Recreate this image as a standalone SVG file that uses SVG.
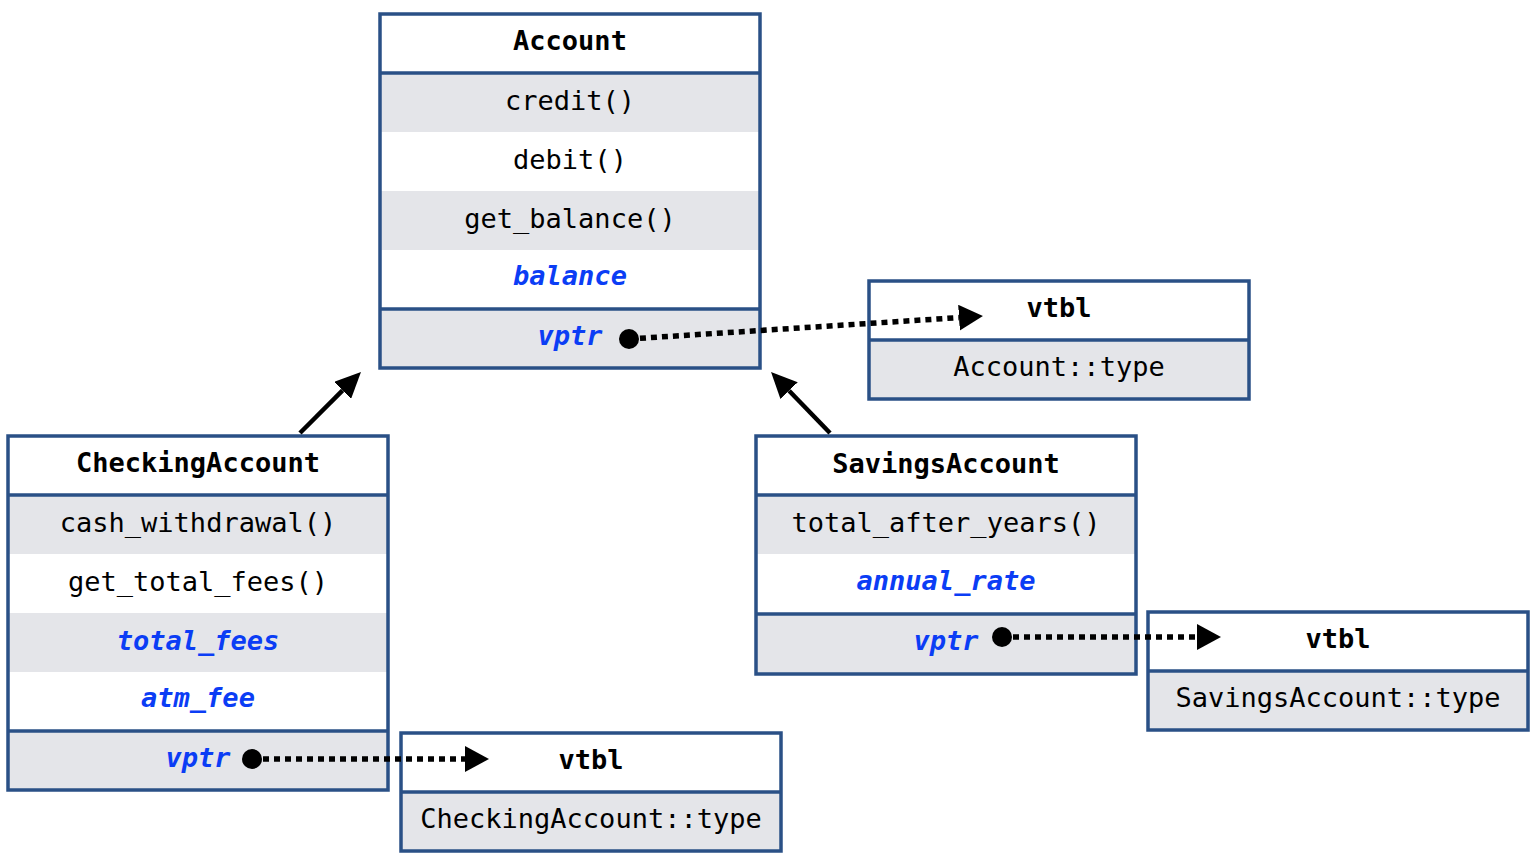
<svg xmlns="http://www.w3.org/2000/svg" width="1532" height="862" viewBox="0 0 1532 862">
<style>
.t{font-family:"DejaVu Sans Mono","Liberation Mono",monospace;font-size:27px;fill:#000;text-anchor:middle;dominant-baseline:central}
.h{font-weight:bold}
.f{font-weight:bold;font-style:italic;fill:#0b3df5}
.g{fill:#e4e5e9}
.w{fill:#ffffff}
.box{fill:none;stroke:#2a5086;stroke-width:3.5}
.sep{stroke:#2a5086;stroke-width:3.5}
.dot{stroke:#000;stroke-width:5.5;stroke-dasharray:6 5;fill:none}
.inh{stroke:#000;stroke-width:4.5;fill:none}
</style>
<defs>
<marker id="tri" markerUnits="userSpaceOnUse" markerWidth="24" markerHeight="26" refX="0" refY="13" orient="auto"><path d="M0,0 L24,13 L0,26 z" fill="#000"/></marker>
<marker id="inh" markerUnits="userSpaceOnUse" markerWidth="26" markerHeight="24" refX="0" refY="12" orient="auto"><path d="M0,0 L26,12 L0,24 z" fill="#000"/></marker>
</defs>
<rect width="1532" height="862" fill="#fff"/>

<g id="account">
<rect class="w" x="380" y="14" width="380" height="59"/>
<rect class="g" x="380" y="73" width="380" height="59"/>
<rect class="w" x="380" y="132" width="380" height="59"/>
<rect class="g" x="380" y="191" width="380" height="59"/>
<rect class="w" x="380" y="250" width="380" height="59"/>
<rect class="g" x="380" y="309" width="380" height="59"/>
<rect class="box" x="380" y="14" width="380" height="354"/>
<line class="sep" x1="380" y1="73" x2="760" y2="73"/>
<line class="sep" x1="380" y1="309" x2="760" y2="309"/>
<text class="t h" x="570" y="40">Account</text>
<text class="t" x="570" y="100">credit()</text>
<text class="t" x="570" y="159">debit()</text>
<text class="t" x="570" y="218">get_balance()</text>
<text class="t f" x="570" y="275">balance</text>
<text class="t f" x="570" y="335">vptr</text>
</g>

<g id="account-vtbl">
<rect class="w" x="869" y="281" width="380" height="59"/>
<rect class="g" x="869" y="340" width="380" height="59"/>
<rect class="box" x="869" y="281" width="380" height="118"/>
<line class="sep" x1="869" y1="340" x2="1249" y2="340"/>
<text class="t h" x="1059" y="307">vtbl</text>
<text class="t" x="1059" y="366">Account::type</text>
</g>

<g id="checking">
<rect class="w" x="8" y="436" width="380" height="59"/>
<rect class="g" x="8" y="495" width="380" height="59"/>
<rect class="w" x="8" y="554" width="380" height="59"/>
<rect class="g" x="8" y="613" width="380" height="59"/>
<rect class="w" x="8" y="672" width="380" height="59"/>
<rect class="g" x="8" y="731" width="380" height="59"/>
<rect class="box" x="8" y="436" width="380" height="354"/>
<line class="sep" x1="8" y1="495" x2="388" y2="495"/>
<line class="sep" x1="8" y1="731" x2="388" y2="731"/>
<text class="t h" x="198" y="462">CheckingAccount</text>
<text class="t" x="198" y="522">cash_withdrawal()</text>
<text class="t" x="198" y="581">get_total_fees()</text>
<text class="t f" x="198" y="640">total_fees</text>
<text class="t f" x="198" y="697">atm_fee</text>
<text class="t f" x="198" y="757">vptr</text>
</g>

<g id="checking-vtbl">
<rect class="w" x="401" y="733" width="380" height="59"/>
<rect class="g" x="401" y="792" width="380" height="59"/>
<rect class="box" x="401" y="733" width="380" height="118"/>
<line class="sep" x1="401" y1="792" x2="781" y2="792"/>
<text class="t h" x="591" y="759">vtbl</text>
<text class="t" x="591" y="818">CheckingAccount::type</text>
</g>

<g id="savings">
<rect class="w" x="756" y="436" width="380" height="59"/>
<rect class="g" x="756" y="495" width="380" height="59"/>
<rect class="w" x="756" y="554" width="380" height="60"/>
<rect class="g" x="756" y="614" width="380" height="60"/>
<rect class="box" x="756" y="436" width="380" height="238"/>
<line class="sep" x1="756" y1="495" x2="1136" y2="495"/>
<line class="sep" x1="756" y1="614" x2="1136" y2="614"/>
<text class="t h" x="946" y="463">SavingsAccount</text>
<text class="t" x="946" y="522">total_after_years()</text>
<text class="t f" x="946" y="580">annual_rate</text>
<text class="t f" x="946" y="640">vptr</text>
</g>

<g id="savings-vtbl">
<rect class="w" x="1148" y="612" width="380" height="59"/>
<rect class="g" x="1148" y="671" width="380" height="59"/>
<rect class="box" x="1148" y="612" width="380" height="118"/>
<line class="sep" x1="1148" y1="671" x2="1528" y2="671"/>
<text class="t h" x="1338" y="638">vtbl</text>
<text class="t" x="1338" y="697">SavingsAccount::type</text>
</g>

<g id="connectors">
<circle cx="629" cy="339" r="10" fill="#000"/>
<line class="dot" x1="629" y1="339" x2="959" y2="317.6" marker-end="url(#tri)"/>
<circle cx="252" cy="759" r="10" fill="#000"/>
<line class="dot" x1="252" y1="759" x2="465" y2="759" marker-end="url(#tri)"/>
<circle cx="1002" cy="637" r="10" fill="#000"/>
<line class="dot" x1="1002" y1="637" x2="1197" y2="637" marker-end="url(#tri)"/>
<line class="inh" x1="300" y1="433" x2="342.6" y2="390.4" marker-end="url(#inh)"/>
<line class="inh" x1="830" y1="433" x2="789.1" y2="390.7" marker-end="url(#inh)"/>
</g>
</svg>
